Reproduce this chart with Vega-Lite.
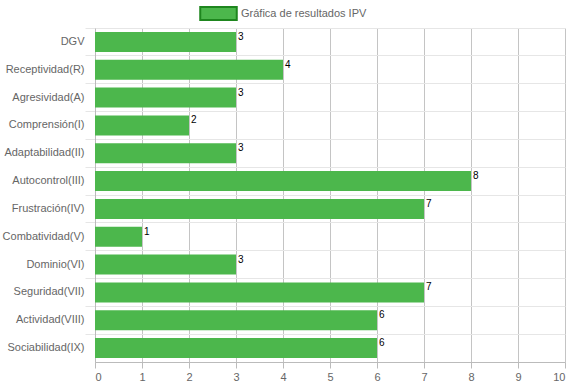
{
  "$schema": "https://vega.github.io/schema/vega-lite/v6.json",
  "autosize": "none",
  "width": 470,
  "height": 334,
  "padding": {"left": 95, "top": 28, "right": 9, "bottom": 24},
  "background": "white",
  "config": {
    "view": {"stroke": null},
    "font": "Liberation Sans"
  },
  "data": {
    "values": [
      {"cat": "DGV", "valor": 3},
      {"cat": "Receptividad(R)", "valor": 4},
      {"cat": "Agresividad(A)", "valor": 3},
      {"cat": "Comprensión(I)", "valor": 2},
      {"cat": "Adaptabilidad(II)", "valor": 3},
      {"cat": "Autocontrol(III)", "valor": 8},
      {"cat": "Frustración(IV)", "valor": 7},
      {"cat": "Combatividad(V)", "valor": 1},
      {"cat": "Dominio(VI)", "valor": 3},
      {"cat": "Seguridad(VII)", "valor": 7},
      {"cat": "Actividad(VIII)", "valor": 6},
      {"cat": "Sociabilidad(IX)", "valor": 6}
    ]
  },
  "encoding": {
    "y": {
      "field": "cat", "type": "nominal", "sort": null,
      "scale": {"paddingInner": 0, "paddingOuter": 0},
      "axis": {
        "title": null, "bandPosition": 0,
        "labelColor": "#666666", "labelFontSize": 11, "labelFont": "Liberation Sans",
        "tickSize": 10, "tickColor": "#e6e6e6", "labelPadding": 1,
        "gridColor": "#e6e6e6", "grid": true,
        "domainColor": "#bbbbbb"
      }
    }
  },
  "layer": [
    {
      "mark": {"type": "bar", "height": {"band": 0.72}},
      "encoding": {
        "x": {
          "field": "valor", "type": "quantitative",
          "scale": {"domain": [0, 10], "nice": false},
          "axis": {
            "title": null, "values": [0,1,2,3,4,5,6,7,8,9,10], "labelOverlap": false,
            "labelColor": "#666666", "labelFontSize": 11, "labelFont": "Liberation Sans",
            "tickSize": 6, "tickColor": "#bbbbbb", "gridColor": "#c4c4c4",
            "domainColor": "#bbbbbb", "labelPadding": 3
          }
        },
        "color": {
          "datum": "Gráfica de resultados IPV",
          "type": "nominal",
          "scale": {"range": ["#4cb74c"]},
          "legend": {
            "title": null,
            "orient": "none",
            "legendX": 109,
            "legendY": -29,
            "symbolType": "M-1.4,-0.5H1.4V0.5H-1.4Z",
            "symbolSize": 680,
            "symbolStrokeColor": "#1e861e",
            "symbolStrokeWidth": 2,
            "symbolOpacity": 1,
            "labelFontSize": 11,
            "labelColor": "#666666",
            "labelFont": "Liberation Sans",
            "labelOffset": 8
          }
        }
      }
    },
    {
      "mark": {"type": "text", "align": "left", "baseline": "top", "dx": 2, "dy": -10, "fontSize": 10, "color": "#000000", "font": "Liberation Sans"},
      "encoding": {
        "x": {"field": "valor", "type": "quantitative"},
        "text": {"field": "valor", "type": "quantitative"}
      }
    }
  ]
}
